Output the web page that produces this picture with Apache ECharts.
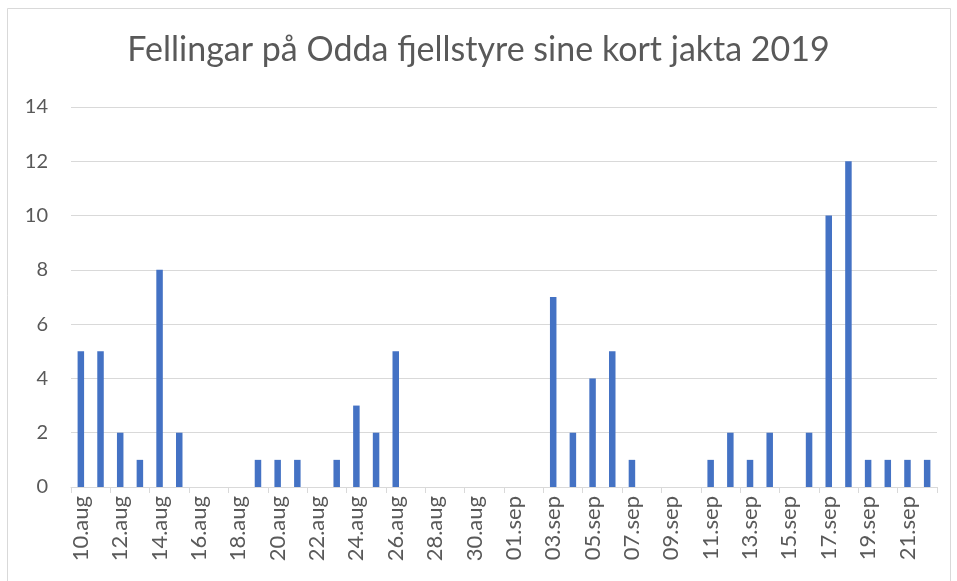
<!DOCTYPE html>
<html lang="nn">
<head>
<meta charset="UTF-8">
<title>Fellingar</title>
<style>
  html, body { margin: 0; padding: 0; background: #fff; }
  #chart { width: 957px; height: 581px; }
</style>
</head>
<body>
<div id="chart"></div>
<script src="https://cdn.jsdelivr.net/npm/echarts@6/dist/echarts.min.js"></script>
<script>
// dagar 10.aug - 22.sep
var augDays = ['10','11','12','13','14','15','16','17','18','19','20','21','22','23','24','25','26','27','28','29','30','31'];
var sepDays = ['01','02','03','04','05','06','07','08','09','10','11','12','13','14','15','16','17','18','19','20','21','22'];
var days = augDays.map(function (d) { return d + '.aug'; })
  .concat(sepDays.map(function (d) { return d + '.sep'; }));

// fellingar per dag (0 = ingen søyle)
var fellingar = [
  5, 5, 2, 1, 8, 2, 0, 0, 0, 1, 1, 1, 0, 1, 3, 2, 5, 0, 0, 0, 0, 0,
  0, 0, 7, 2, 4, 5, 1, 0, 0, 0, 1, 2, 1, 2, 0, 2, 10, 12, 1, 1, 1, 1
];

var chart = echarts.init(document.getElementById('chart'));
var textCol = '#595959';
var lineCol = '#d9d9d9';
var font = 'Lato';

chart.setOption({
  animation: false,
  backgroundColor: '#fff',
  title: {
    text: 'Fellingar på Odda fjellstyre sine kort jakta 2019',
    left: 'center',
    top: 28,
    textStyle: { fontFamily: font, fontWeight: 'normal', fontSize: 34, color: textCol }
  },
  graphic: [{
    type: 'rect',
    shape: { x: 7.5, y: 8.5, width: 943, height: 580 },
    style: { fill: 'none', stroke: lineCol, lineWidth: 1 },
    silent: true
  }],
  grid: { left: 71, right: 20, top: 107, bottom: 94 },
  xAxis: {
    type: 'category',
    data: days,
    boundaryGap: true,
    axisLine: { lineStyle: { color: lineCol, width: 1 } },
    axisTick: { show: true, interval: 1, length: 6, lineStyle: { color: lineCol } },
    axisLabel: {
      interval: 1,
      rotate: 90,
      margin: 9,
      color: textCol,
      fontFamily: font,
      fontSize: 22
    }
  },
  yAxis: {
    type: 'value',
    min: 0,
    max: 14,
    interval: 2,
    axisLine: { show: false },
    axisTick: { show: false },
    splitLine: { lineStyle: { color: lineCol, width: 1 } },
    axisLabel: { color: textCol, fontFamily: font, fontSize: 20, margin: 23 }
  },
  series: [{
    type: 'bar',
    data: fellingar,
    barWidth: 6.5,
    itemStyle: { color: '#4472C4' }
  }]
});
</script>
</body>
</html>
